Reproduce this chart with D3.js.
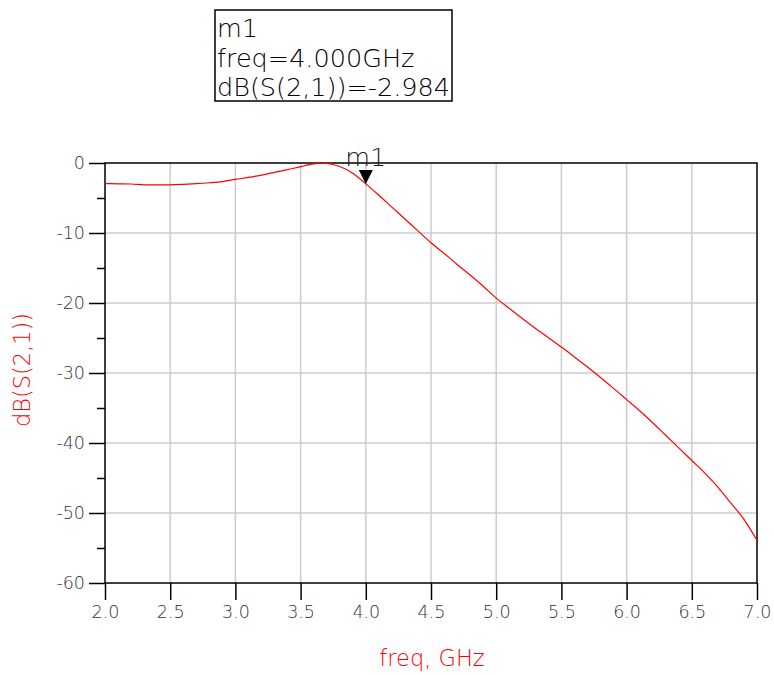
<!DOCTYPE html>
<html>
<head>
<meta charset="utf-8">
<script src="https://cdn.jsdelivr.net/npm/d3@7"></script>
<style>
  body { margin: 0; background: #fff; }
  svg text { font-family: "DejaVu Sans", sans-serif; font-weight: 200; }
</style>
</head>
<body>
<svg width="774" height="675"></svg>
<script>
(function (d3) {
  'use strict';

  // S21 magnitude
  const freqGHz = [2.0, 2.1, 2.2, 2.3, 2.4, 2.5, 2.6, 2.7, 2.8, 2.9,
    3.0, 3.1, 3.2, 3.3, 3.4, 3.5, 3.6, 3.65, 3.7, 3.8, 3.9,
    4.0, 4.1, 4.2, 4.3, 4.4, 4.5, 4.6, 4.7, 4.8, 4.9,
    5.0, 5.1, 5.2, 5.3, 5.4, 5.5, 5.6, 5.7, 5.8, 5.9,
    6.0, 6.1, 6.2, 6.3, 6.4, 6.5, 6.6, 6.7, 6.8, 6.9, 7.0];
  const dbS21 = [-2.95, -2.97, -3.0, -3.12, -3.13, -3.12, -3.05, -2.95, -2.82, -2.65,
    -2.35, -2.05, -1.72, -1.35, -0.95, -0.52, -0.13, 0.0, -0.05, -0.5, -1.45,
    -2.98, -4.6, -6.3, -8.0, -9.7, -11.4, -12.9, -14.5, -16.0, -17.6,
    -19.3, -20.75, -22.2, -23.6, -24.95, -26.3, -27.7, -29.15, -30.65, -32.2,
    -33.8, -35.4, -37.1, -38.9, -40.7, -42.5, -44.3, -46.3, -48.6, -50.9, -53.9];

  const xTicks = [2.0, 2.5, 3.0, 3.5, 4.0, 4.5, 5.0, 5.5, 6.0, 6.5, 7.0];
  const yTicks = [0, -10, -20, -30, -40, -50, -60];
  const yMinorTicks = [-5, -15, -25, -35, -45, -55];

  const markerName = 'm1';
  const markerFreq = 4.0;
  const markerValue = -2.984;
  const markerLines = ['m1', 'freq=4.000GHz', 'dB(S(2,1))=-2.984'];

  const svg = d3.select('svg');
  const left = 105, right = 757, top = 163, bottom = 583;

  const x = d3.scaleLinear().domain([2, 7]).range([left, right]);
  const y = d3.scaleLinear().domain([-60, 0]).range([bottom, top]);

  // grid
  svg.append('g')
    .selectAll('line')
    .data(xTicks.slice(1, -1))
    .join('line')
    .attr('x1', d => x(d)).attr('x2', d => x(d))
    .attr('y1', top).attr('y2', bottom)
    .attr('stroke', '#cccccc').attr('stroke-width', 1.5);

  svg.append('g')
    .selectAll('line')
    .data(yTicks.slice(1, -1))
    .join('line')
    .attr('x1', left).attr('x2', right)
    .attr('y1', d => y(d)).attr('y2', d => y(d))
    .attr('stroke', '#cccccc').attr('stroke-width', 1.5);

  // frame
  svg.append('rect')
    .attr('x', left).attr('y', top)
    .attr('width', right - left).attr('height', bottom - top)
    .attr('fill', 'none').attr('stroke', '#000').attr('stroke-width', 1.5);

  // x axis
  const gx = svg.append('g')
    .attr('transform', `translate(0,${bottom})`)
    .call(d3.axisBottom(x)
      .tickValues(xTicks)
      .tickFormat(d3.format('.1f'))
      .tickSize(17)
      .tickPadding(6));

  // y axis
  const gy = svg.append('g')
    .attr('transform', `translate(${left},0)`)
    .call(d3.axisLeft(y)
      .tickValues(yTicks)
      .tickFormat(d => d)
      .tickSize(16)
      .tickPadding(4));

  svg.append('g')
    .attr('transform', `translate(${left},0)`)
    .call(d3.axisLeft(y).tickValues(yMinorTicks).tickSize(8).tickFormat(''))
    .call(g => g.select('.domain').remove())
    .selectAll('line').attr('stroke', '#000').attr('stroke-width', 1.5);

  [gx, gy].forEach(g => {
    g.select('.domain').remove();
    g.selectAll('line').attr('stroke', '#000').attr('stroke-width', 1.5);
    g.selectAll('text')
      .attr('fill', '#333')
      .style('font-size', '17.5px')
      .style('font-family', '"DejaVu Sans", sans-serif');
  });

  // axis titles
  svg.append('text')
    .attr('x', 432).attr('y', 666)
    .attr('text-anchor', 'middle')
    .attr('fill', '#ff0000')
    .style('font-size', '22.5px')
    .text('freq, GHz');

  svg.append('text')
    .attr('transform', 'translate(30,370) rotate(-90)')
    .attr('text-anchor', 'middle')
    .attr('fill', '#ff0000')
    .style('font-size', '22.5px')
    .text('dB(S(2,1))');

  // trace
  const line = d3.line()
    .x((d, i) => x(freqGHz[i]))
    .y(d => y(d))
    .curve(d3.curveMonotoneX);

  svg.append('path')
    .datum(dbS21)
    .attr('d', line)
    .attr('fill', 'none')
    .attr('stroke', '#ff0000')
    .attr('stroke-width', 1.2);

  // marker
  const mx = x(markerFreq), my = y(markerValue);
  svg.append('path')
    .attr('d', `M${mx},${my} L${mx - 7},${my - 14} L${mx + 7},${my - 14} Z`)
    .attr('fill', '#000');

  svg.append('text')
    .attr('x', mx).attr('y', my - 18)
    .attr('text-anchor', 'middle')
    .attr('fill', '#1a1a1a')
    .style('font-size', '25.5px')
    .text(markerName);

  // marker readout box
  svg.append('rect')
    .attr('x', 215).attr('y', 10)
    .attr('width', 237).attr('height', 91)
    .attr('fill', '#fff').attr('stroke', '#000').attr('stroke-width', 1.5);

  svg.append('g')
    .selectAll('text')
    .data(markerLines)
    .join('text')
    .attr('x', 217)
    .attr('y', (d, i) => 37 + i * 29.5)
    .attr('fill', '#000')
    .style('font-size', '25.5px')
    .text(d => d);

}(d3));
</script>
</body>
</html>
